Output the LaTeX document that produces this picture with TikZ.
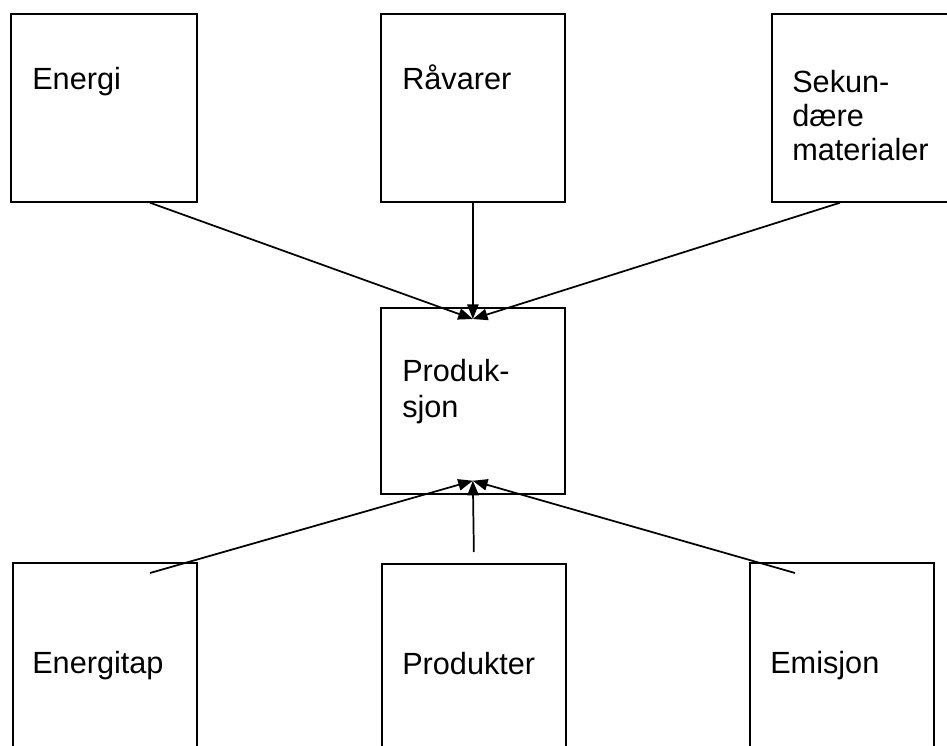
\documentclass[tikz,border=0pt]{standalone}
\usepackage{fontspec}
\setmainfont{Liberation Sans}
\usetikzlibrary{arrows.meta,calc}
\begin{document}
\begin{tikzpicture}[x=0.75pt,y=-0.75pt,
  box/.style={draw=black,line width=1.3pt,inner sep=0pt,anchor=north west,fill=none},
  lbl/.style={inner sep=0pt,anchor=base west,font=\fontsize{23}{26}\selectfont},
  flow/.style={draw=black,line width=1.3pt,-{Triangle[length=11pt,width=8.5pt]}}]
\useasboundingbox (0,0) rectangle (947,746);
\clip (0,0) rectangle (947,746);
% boxes
\node[box,minimum width=139.5pt,minimum height=141pt] (E) at (10,13) {};
\node[box,minimum width=138pt,minimum height=141pt] (R) at (380,13) {};
\node[box,minimum width=140pt,minimum height=141pt] (S) at (771,13) {};
\node[box,minimum width=138pt,minimum height=139.5pt] (P) at (380,307) {};
\node[box,minimum width=138pt,minimum height=141pt] (Et) at (12,562) {};
\node[box,minimum width=138pt,minimum height=141pt] (Pk) at (381,563) {};
\node[box,minimum width=138pt,minimum height=141pt] (Em) at (749,562) {};
% labels
\node[lbl] (tE) at (32,89) {Energi};
\node[lbl] (tR) at (402,89) {Råvarer};
\node[lbl] (tS1) at (792,92) {Sekun-};
\node[lbl] (tS2) at (792,126) {dære};
\node[lbl] (tS3) at (792,160) {materialer};
\node[lbl] (tP1) at (402,381) {Produk-};
\node[lbl] (tP2) at (402,417) {sjon};
\node[lbl] (tEt) at (32,673) {Energitap};
\node[lbl] (tPk) at (402,674) {Produkter};
\node[lbl] (tEm) at (770,673) {Emisjon};
% connectors
\coordinate (Pin) at ($(P.north)+(0,12)$);
\coordinate (Pout) at ($(P.south)+(0,-14)$);
\draw[flow] ($(E.south west)+(140,0)$) -- (Pin);
\draw[flow] (R.south) -- (Pin);
\draw[flow] ($(S.south west)+(69,0)$) -- (Pin);
\draw[flow] ($(Et.north west)+(138,11)$) -- (Pout);
\draw[flow] ($(Pk.north)+(0,-11)$) -- (Pout);
\draw[flow] ($(Em.north west)+(46,11)$) -- (Pout);
\end{tikzpicture}
\end{document}
